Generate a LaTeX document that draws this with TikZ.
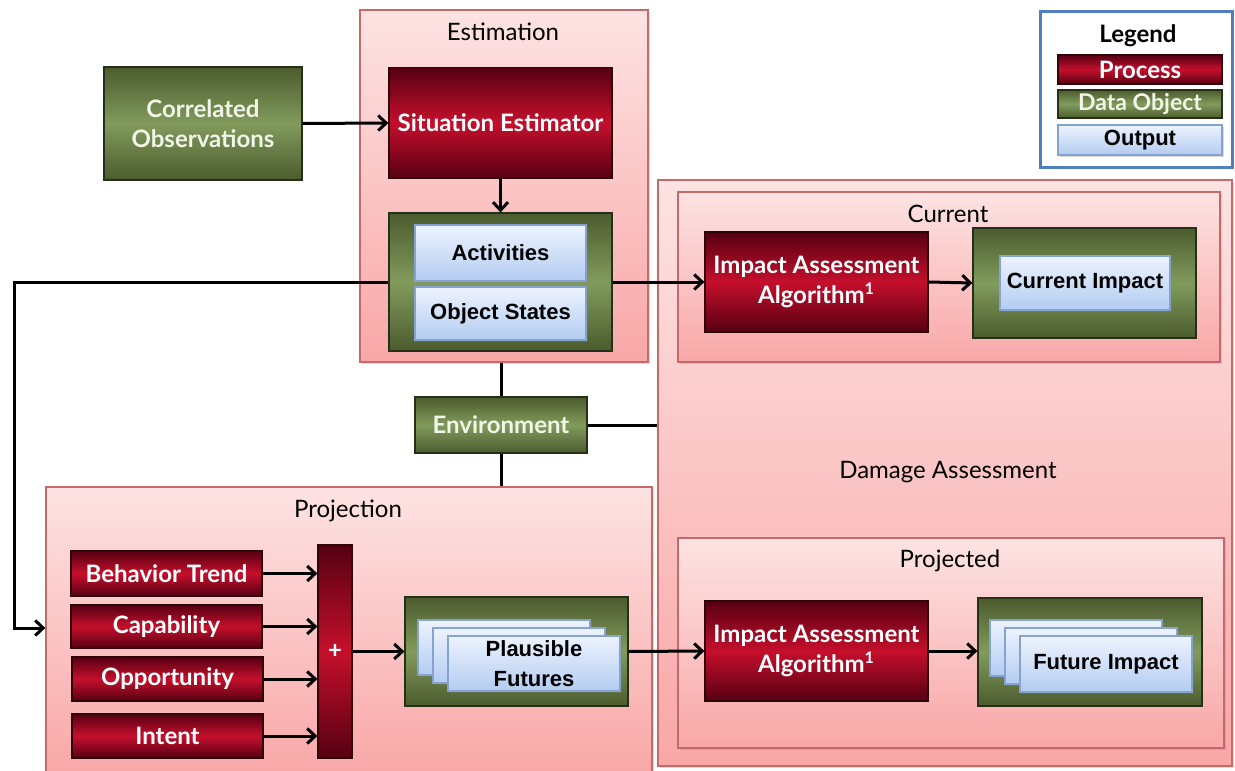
\documentclass[tikz,border=0pt]{standalone}
\usepackage{fontspec}
\setmainfont{Lato}
\newfontfamily\arialfont{Liberation Sans}
\usetikzlibrary{arrows.meta,shadows}

\definecolor{pinktop}{HTML}{FDE3E3}
\definecolor{pinkbot}{HTML}{F9A7A7}
\definecolor{pinkedge}{HTML}{C46A6A}
\definecolor{procdark}{HTML}{560012}
\definecolor{procmid}{HTML}{C50F2C}
\definecolor{procedge}{HTML}{2E0508}
\definecolor{datadark}{HTML}{4B5B2E}
\definecolor{datamid}{HTML}{819B5C}
\definecolor{dataedge}{HTML}{263019}
\definecolor{datatext}{HTML}{F2F5E8}
\definecolor{outtop}{HTML}{EDF3FF}
\definecolor{outbot}{HTML}{B3CCF1}
\definecolor{outedge}{HTML}{86A3CF}
\definecolor{legedge}{HTML}{4F7FC1}

\tikzset{
  sz/.style 2 args={minimum width=#1, minimum height=#2},
  container/.style={draw=pinkedge, line width=0.6pt, top color=pinktop, bottom color=pinkbot,
    inner sep=0pt, drop shadow={opacity=0.25, shadow xshift=1.2pt, shadow yshift=-1.2pt}},
  proc/.style={draw=procedge, line width=0.6pt, top color=procdark, bottom color=procdark,
    middle color=procmid, text=white, align=center, inner sep=0pt,
    font=\bfseries\fontsize{12}{15}\selectfont},
  dataobj/.style={draw=dataedge, line width=0.6pt, top color=datadark, bottom color=datadark,
    middle color=datamid, text=datatext, align=center, inner sep=0pt,
    font=\bfseries\fontsize{12}{15}\selectfont},
  outbox/.style={draw=outedge, line width=0.6pt, top color=outtop, bottom color=outbot,
    text=black, align=center, inner sep=0pt,
    font=\arialfont\bfseries\fontsize{11}{15}\selectfont,
    drop shadow={opacity=0.3, shadow xshift=0.8pt, shadow yshift=-0.8pt}},
  grouptitle/.style={font=\fontsize{12}{14}\selectfont, text=black},
  conn/.style={line width=1.5pt, black},
  arr/.style={conn, -{Straight Barb[length=4pt,width=7.5pt]}},
}

\begin{document}
\begin{tikzpicture}[x=0.5pt, y=-0.5pt]
\useasboundingbox (0,0) rectangle (1235,770);

% ---------- group containers ----------
\node[container, sz={144pt}{176pt}] (est) at (504,186) {};
\node[grouptitle] (esttitle) at (503,32) {Estimation};

\node[container, sz={287pt}{293pt}] (dmg) at (945,473) {};
\node[grouptitle] (dmgtitle) at (948,472) {Damage Assessment};

\node[container, sz={271pt}{85pt}] (cur) at (949,277) {};
\node[grouptitle] (curtitle) at (948,214) {Current};

\node[container, sz={273pt}{105pt}] (prj) at (951,643) {};
\node[grouptitle] (prjtitle) at (950,561) {Projected};

\node[container, sz={303pt}{144pt}] (proj) at (349,631) {};
\node[grouptitle] (projtitle) at (348,511) {Projection};

% ---------- legend ----------
\node[draw=legedge, line width=1.5pt, fill=white, sz={96pt}{78pt}] (legend) at (1136,90) {};
\node[font=\bfseries\fontsize{12}{13}\selectfont] (legtitle) at (1138,36) {Legend};
\node[proc, sz={82pt}{14.5pt}, font=\bfseries\fontsize{12}{12}\selectfont] (lgproc) at (1140,69.5) {Process};
\node[dataobj, sz={82pt}{14pt}, font=\bfseries\fontsize{11.5}{12}\selectfont] (lgdata) at (1140,104) {Data Object};
\node[outbox, sz={82pt}{15pt}, font=\arialfont\bfseries\fontsize{11}{12}\selectfont] (lgout) at (1140,140) {Output};

% ---------- estimation ----------
\node[dataobj, sz={99pt}{56.5pt}] (corr) at (203,123.5) {Correlated\\Observations};
\node[proc, sz={111.5pt}{55.5pt}] (sitest) at (500.5,123) {Situation Estimator};
\node[dataobj, sz={111.5pt}{69pt}] (estdata) at (500.5,282) {};
\node[outbox, sz={85.5pt}{28pt}] (act) at (500.5,253) {Activities};
\node[outbox, sz={85.5pt}{26.5pt}] (objst) at (500.5,313.5) {Object States};

% ---------- current impact ----------
\node[proc, sz={111.5pt}{50pt}] (iac) at (816.5,282) {Impact Assessment\\Algorithm\textsuperscript{1}};
\node[dataobj, sz={111.5pt}{55pt}] (curdata) at (1084.5,283) {};
\node[outbox, sz={85pt}{27pt}] (curimp) at (1085,283) {Current Impact};

% ---------- environment ----------
\node[dataobj, sz={86pt}{28pt}] (env) at (501,425) {Environment};

% ---------- projection ----------
\node[proc, sz={95.5pt}{22.5pt}] (bt) at (166.5,573.5) {Behavior Trend};
\node[proc, sz={95.5pt}{21.5pt}] (cap) at (166.5,626.5) {Capability};
\node[proc, sz={95.5pt}{22pt}] (opp) at (167.5,679) {Opportunity};
\node[proc, sz={95.5pt}{22pt}] (int) at (167.5,736) {Intent};
\node[proc, sz={17pt}{106.5pt}, font=\bfseries\fontsize{12}{12}\selectfont] (bar) at (335,651.5) {+};

\node[dataobj, sz={111.5pt}{54.5pt}] (plaus) at (516.5,651.5) {};
\node[outbox, sz={86pt}{27.5pt}] (pf3) at (504,647.5) {};
\node[outbox, sz={86pt}{27.5pt}] (pf2) at (519,655.5) {};
\node[outbox, sz={86pt}{27.5pt}] (pf1) at (534,663.5) {Plausible\\Futures};

% ---------- projected impact ----------
\node[proc, sz={111.5pt}{50pt}] (iap) at (816.5,651) {Impact Assessment\\Algorithm\textsuperscript{1}};
\node[dataobj, sz={112pt}{54pt}] (futdata) at (1090,652) {};
\node[outbox, sz={86pt}{28pt}] (fi3) at (1076,648) {};
\node[outbox, sz={86pt}{28pt}] (fi2) at (1091,656) {};
\node[outbox, sz={86pt}{28pt}] (fi1) at (1106,664) {Future Impact};

% ---------- connectors ----------
\coordinate (fb) at (14,628);
\draw[arr] (corr.east) -- (sitest.west);
\draw[arr] (sitest.south) -- (estdata.north);
\draw[arr] (estdata.west) -| (fb) -- (fb -| proj.west);
\draw[arr] (estdata.east) -- (iac.west);
\draw[arr] (iac.east) -- (curdata.west);

\draw[conn] (env.north |- est.south) -- (env.north);
\draw[conn] (env.south) -- (env.south |- proj.north);
\draw[conn] (env.east) -- (env.east -| dmg.west);

\draw[arr] (bt.east) -- (bt.east -| bar.west);
\draw[arr] (cap.east) -- (cap.east -| bar.west);
\draw[arr] (opp.east) -- (opp.east -| bar.west);
\draw[arr] (int.east) -- (int.east -| bar.west);
\draw[arr] (bar.east) -- (plaus.west);
\draw[arr] (plaus.east) -- (iap.west);
\draw[arr] (iap.east) -- (iap.east -| futdata.west);
\end{tikzpicture}
\end{document}
